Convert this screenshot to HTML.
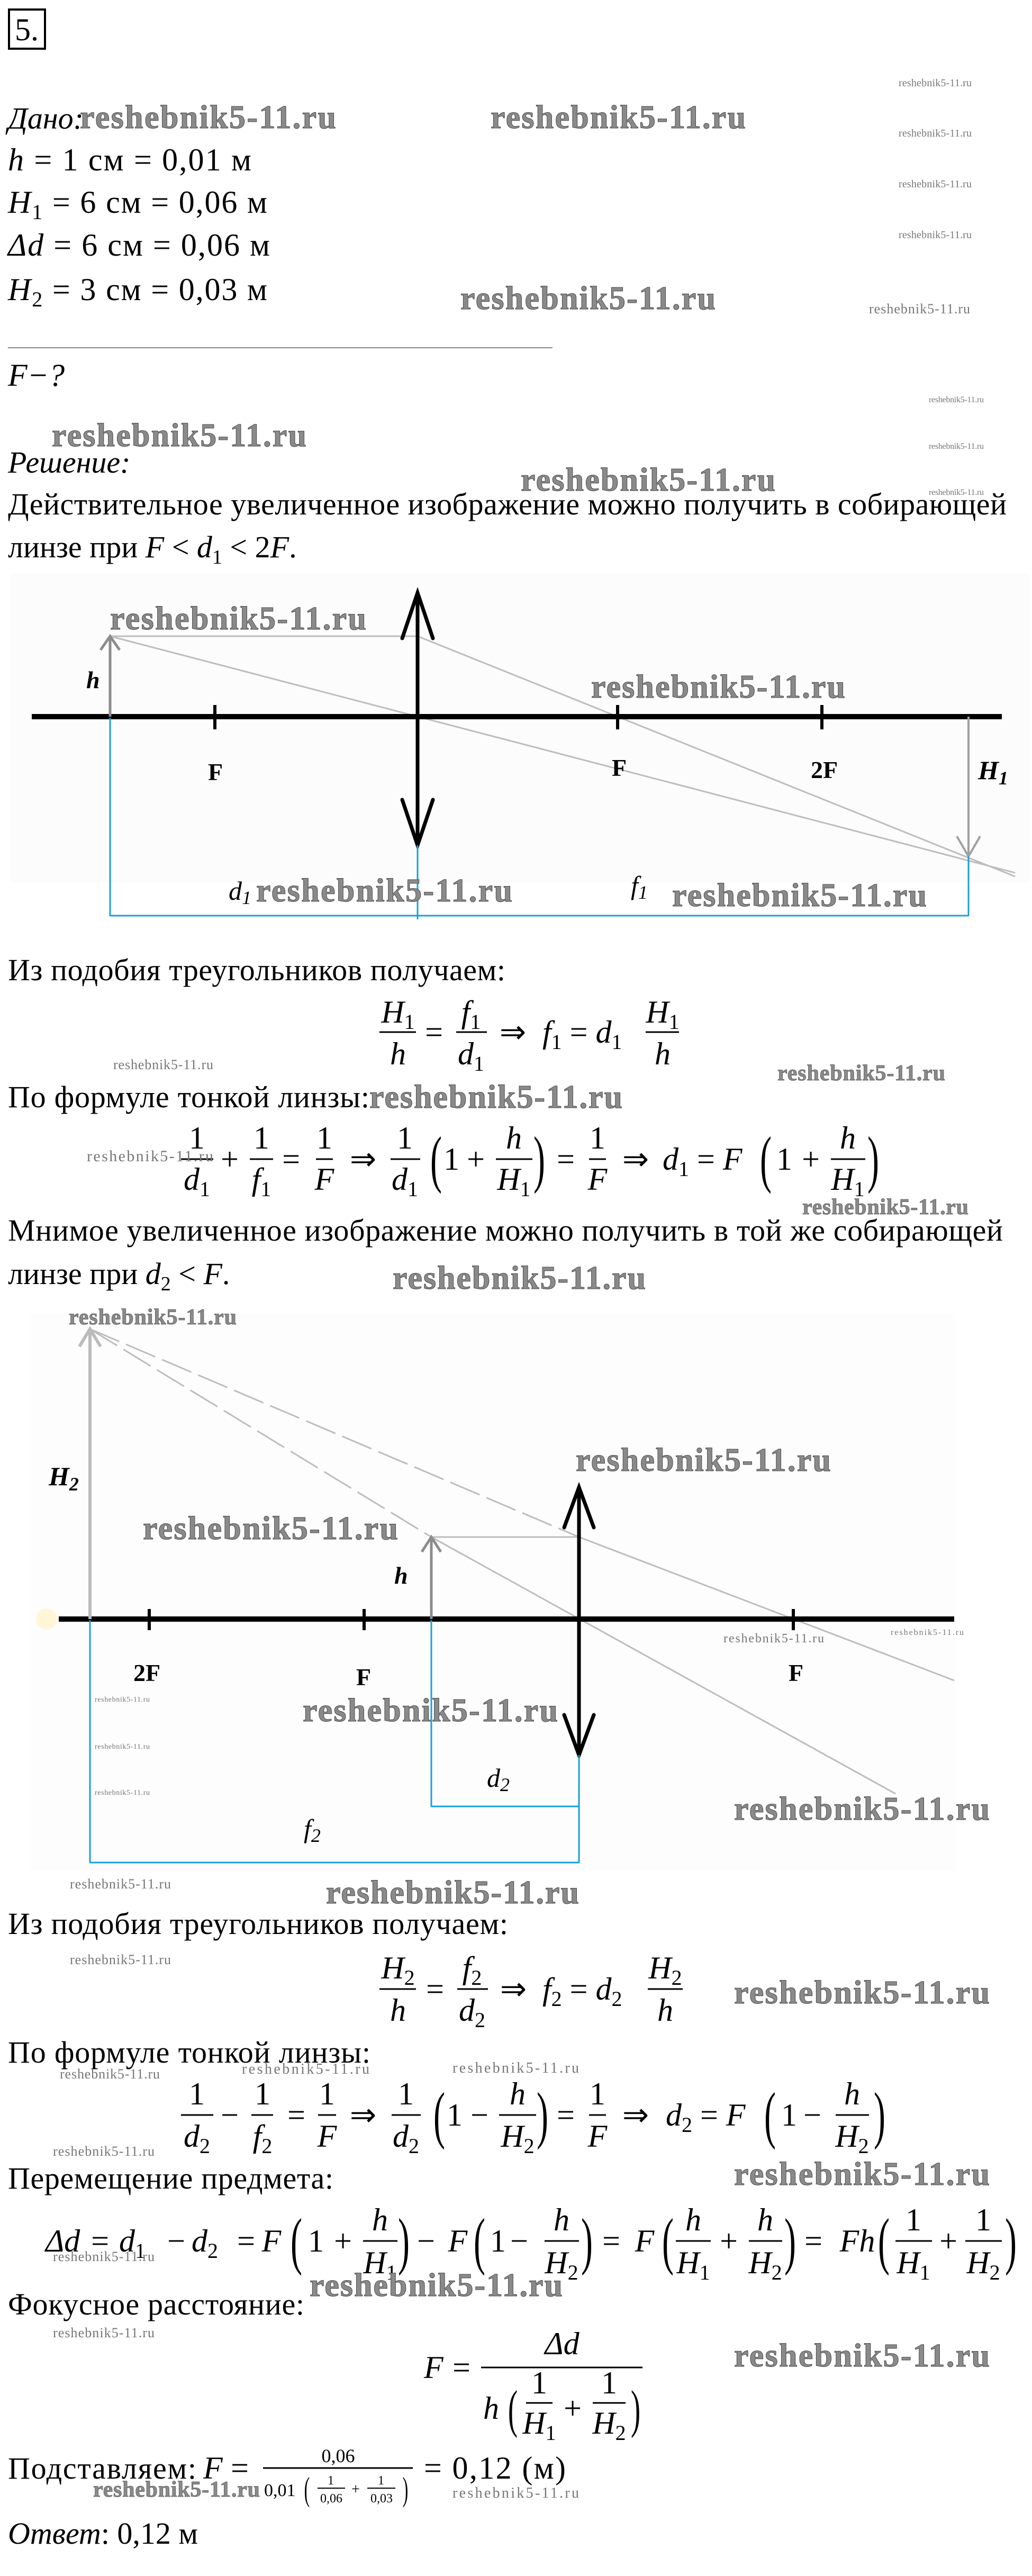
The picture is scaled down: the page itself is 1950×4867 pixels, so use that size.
<!DOCTYPE html>
<html><head><meta charset="utf-8"><style>
html,body{margin:0;padding:0;background:#fff}
svg{display:block;font-family:"Liberation Serif","DejaVu Serif",serif}
.t{font-family:"Liberation Serif",serif;font-size:58px;fill:#000}
.i{font-family:"Liberation Serif",serif;font-style:italic;font-size:58px;fill:#000}
.m{font-family:"Liberation Serif",serif;font-style:italic;font-size:60px;fill:#000}
.n{font-family:"Liberation Serif",serif;font-size:60px;fill:#000}
.p{font-family:"Liberation Serif",serif;font-size:120px;fill:#000}
.wb{font-family:"Liberation Serif",serif;font-weight:bold;font-size:62px;fill:#8a8a8a;stroke:#4a4a4a;stroke-width:1}
.wm{font-family:"Liberation Serif",serif;font-weight:bold;font-size:42px;fill:#8a8a8a;stroke:#555;stroke-width:.8}
.ws{font-family:"Liberation Serif",serif;font-size:26px;fill:#777}
.dl{font-family:"Liberation Serif",serif;font-weight:bold;font-size:46px;fill:#000}
</style></head><body>
<svg width="1950" height="4867" viewBox="0 0 1950 4867" xmlns="http://www.w3.org/2000/svg">
<rect width="1950" height="4867" fill="#fff"/>
<rect x="17" y="18" width="68" height="74" fill="none" stroke="#000" stroke-width="4"/>
<text x="28" y="76" class="t" style="font-size:60px">5.</text>
<text x="15" y="243" class="i">Дано:</text>
<text x="15" y="322" class="n" textLength="460"><tspan font-style="italic">h</tspan> = 1 см = 0,01 м</text>
<text x="15" y="402" class="n" textLength="490"><tspan font-style="italic">H</tspan><tspan font-size="40" dy="12">1</tspan><tspan dy="-12"> = 6 см = 0,06 м</tspan></text>
<text x="15" y="483" class="n" textLength="495"><tspan font-style="italic">Δd</tspan> = 6 см = 0,06 м</text>
<text x="15" y="567" class="n" textLength="490"><tspan font-style="italic">H</tspan><tspan font-size="40" dy="12">2</tspan><tspan dy="-12"> = 3 см = 0,03 м</tspan></text>
<line x1="15" y1="657" x2="1044" y2="657" stroke="#888" stroke-width="2"/>
<text x="15" y="729" class="m">F−?</text>
<text x="15" y="893" class="i">Решение:</text>
<text x="15" y="972" class="t" textLength="1887">Действительное увеличенное изображение можно получить в собирающей</text>
<text x="15" y="1053" class="t">линзе при  <tspan font-style="italic">F</tspan> &lt; <tspan font-style="italic">d</tspan><tspan font-size="38" dy="12">1</tspan><tspan dy="-12"> &lt; 2</tspan><tspan font-style="italic">F</tspan>.</text>
<text x="151" y="242" class="wb" textLength="484">reshebnik5-11.ru</text>
<text x="927" y="242" class="wb" textLength="482">reshebnik5-11.ru</text>
<text x="870" y="584" class="wb" textLength="482">reshebnik5-11.ru</text>
<text x="98" y="843" class="wb" textLength="481">reshebnik5-11.ru</text>
<text x="984" y="927" class="wb" textLength="481">reshebnik5-11.ru</text>
<text x="1698" y="163" class="ws" style="font-size:20px" textLength="138">reshebnik5-11.ru</text>
<text x="1698" y="258" class="ws" style="font-size:20px" textLength="138">reshebnik5-11.ru</text>
<text x="1698" y="354" class="ws" style="font-size:20px" textLength="138">reshebnik5-11.ru</text>
<text x="1698" y="450" class="ws" style="font-size:20px" textLength="138">reshebnik5-11.ru</text>
<text x="1642" y="592" class="ws" textLength="191">reshebnik5-11.ru</text>
<text x="1755" y="760" class="ws" style="font-size:16px" textLength="104">reshebnik5-11.ru</text>
<text x="1755" y="848" class="ws" style="font-size:16px" textLength="104">reshebnik5-11.ru</text>
<text x="1755" y="935" class="ws" style="font-size:16px" textLength="104">reshebnik5-11.ru</text>

<rect x="20" y="1083" width="1925" height="585" fill="#fcfcfc"/>
<g stroke="#bdbdbd" stroke-width="3" fill="none">
<polyline points="208,1202 789,1202 1918,1656"/>
<line x1="208" y1="1202" x2="1918" y2="1649"/>
</g>
<line x1="60" y1="1354" x2="1893" y2="1354" stroke="#000" stroke-width="10"/>
<g stroke="#000" stroke-width="6">
<line x1="406" y1="1332" x2="406" y2="1378"/>
<line x1="1167" y1="1332" x2="1167" y2="1378"/>
<line x1="1553" y1="1332" x2="1553" y2="1378"/>
</g>
<g stroke="#000" stroke-width="7" fill="none" stroke-linecap="round">
<line x1="789" y1="1120" x2="789" y2="1597"/>
<polyline points="760,1206 789,1120 818,1206"/>
<polyline points="760,1511 789,1597 818,1511"/>
</g>
<g stroke="#8c8c8c" stroke-width="5" fill="none">
<line x1="208" y1="1354" x2="208" y2="1204"/>
<polyline points="190,1228 208,1202 226,1228"/>
</g>
<g stroke="#a0a0a0" stroke-width="4" fill="none">
<line x1="1830" y1="1354" x2="1830" y2="1616"/>
<polyline points="1808,1580 1830,1618 1852,1580"/>
</g>
<g stroke="#1a9fd8" stroke-width="3">
<line x1="208" y1="1356" x2="208" y2="1731"/>
<line x1="789" y1="1597" x2="789" y2="1737"/>
<line x1="1830" y1="1618" x2="1830" y2="1731"/>
<line x1="208" y1="1730" x2="1830" y2="1730"/>
</g>
<text x="163" y="1300" class="dl" font-style="italic">h</text>
<text x="393" y="1474" class="dl">F</text>
<text x="1156" y="1466" class="dl">F</text>
<text x="1532" y="1470" class="dl">2F</text>
<text x="1848" y="1472" class="m" font-weight="bold" style="font-size:50px">H<tspan font-size="36" dy="10">1</tspan></text>
<text x="432" y="1700" class="m" style="font-size:50px">d<tspan font-size="36" dy="8">1</tspan></text>
<text x="1192" y="1690" class="m" style="font-size:50px">f<tspan font-size="36" dy="8">1</tspan></text>
<text x="208" y="1189" class="wb" textLength="484">reshebnik5-11.ru</text>
<text x="1117" y="1318" class="wb" textLength="480">reshebnik5-11.ru</text>
<text x="484" y="1703" class="wb" textLength="484">reshebnik5-11.ru</text>
<text x="1270" y="1712" class="wb" textLength="481">reshebnik5-11.ru</text>

<text x="15" y="1852" class="t" textLength="940">Из подобия треугольников получаем:</text>
<g>
<text x="752" y="1932" class="m" text-anchor="middle">H<tspan font-size="40" font-style="normal" dy="12">1</tspan></text>
<line x1="717" y1="1950" x2="786" y2="1950" stroke="#000" stroke-width="3"/>
<text x="752" y="2011" class="m" text-anchor="middle">h</text>
<text x="820" y="1970" class="n" text-anchor="middle">=</text>
<text x="890" y="1932" class="m" text-anchor="middle">f<tspan font-size="40" font-style="normal" dy="12">1</tspan></text>
<line x1="862" y1="1950" x2="920" y2="1950" stroke="#000" stroke-width="3"/>
<text x="890" y="2011" class="m" text-anchor="middle">d<tspan font-size="40" font-style="normal" dy="12">1</tspan></text>
<text x="969" y="1970" class="n" text-anchor="middle">⇒</text>
<text x="1025" y="1970" class="m">f<tspan font-size="40" font-style="normal" dy="12">1</tspan><tspan dy="-12" font-style="normal"> = </tspan>d<tspan font-size="40" font-style="normal" dy="12">1</tspan></text>
<text x="1252" y="1932" class="m" text-anchor="middle">H<tspan font-size="40" font-style="normal" dy="12">1</tspan></text>
<line x1="1220" y1="1950" x2="1283" y2="1950" stroke="#000" stroke-width="3"/>
<text x="1252" y="2011" class="m" text-anchor="middle">h</text>
</g>
<text x="214" y="2020" class="ws" textLength="189">reshebnik5-11.ru</text>
<text x="1469" y="2041" class="wm" textLength="317">reshebnik5-11.ru</text>
<text x="15" y="2092" class="t" textLength="683">По формуле тонкой линзы:</text>
<text x="698" y="2093" class="wb" textLength="478">reshebnik5-11.ru</text>

<g>
<text x="372" y="2170" class="n" text-anchor="middle">1</text><line x1="342" y1="2190" x2="403" y2="2190" stroke="#000" stroke-width="3"/><text x="372" y="2248" class="m" text-anchor="middle">d<tspan font-size="40" font-style="normal" dy="12">1</tspan></text>
<text x="434" y="2210" class="n" text-anchor="middle">+</text>
<text x="494" y="2170" class="n" text-anchor="middle">1</text><line x1="472" y1="2190" x2="516" y2="2190" stroke="#000" stroke-width="3"/><text x="494" y="2248" class="m" text-anchor="middle">f<tspan font-size="40" font-style="normal" dy="12">1</tspan></text>
<text x="550" y="2210" class="n" text-anchor="middle">=</text>
<text x="613" y="2170" class="n" text-anchor="middle">1</text><line x1="597" y1="2190" x2="629" y2="2190" stroke="#000" stroke-width="3"/><text x="613" y="2248" class="m" text-anchor="middle">F</text>
<text x="686" y="2210" class="n" text-anchor="middle">⇒</text>
<text x="765" y="2170" class="n" text-anchor="middle">1</text><line x1="738" y1="2190" x2="794" y2="2190" stroke="#000" stroke-width="3"/><text x="765" y="2248" class="m" text-anchor="middle">d<tspan font-size="40" font-style="normal" dy="12">1</tspan></text>
<text transform="translate(824,2230) scale(0.55,1)" class="p" text-anchor="middle">(</text>
<text x="853" y="2210" class="n" text-anchor="middle">1</text>
<text x="899" y="2210" class="n" text-anchor="middle">+</text>
<text x="971" y="2170" class="m" text-anchor="middle">h</text><line x1="937" y1="2190" x2="1006" y2="2190" stroke="#000" stroke-width="3"/><text x="971" y="2248" class="m" text-anchor="middle">H<tspan font-size="40" font-style="normal" dy="12">1</tspan></text>
<text transform="translate(1019,2230) scale(0.55,1)" class="p" text-anchor="middle">)</text>
<text x="1069" y="2210" class="n" text-anchor="middle">=</text>
<text x="1129" y="2170" class="n" text-anchor="middle">1</text><line x1="1113" y1="2190" x2="1145" y2="2190" stroke="#000" stroke-width="3"/><text x="1129" y="2248" class="m" text-anchor="middle">F</text>
<text x="1201" y="2210" class="n" text-anchor="middle">⇒</text>
<text x="1252" y="2210" class="m">d<tspan font-size="40" font-style="normal" dy="12">1</tspan><tspan dy="-12" font-style="normal"> = </tspan>F</text>
<text transform="translate(1447,2230) scale(0.55,1)" class="p" text-anchor="middle">(</text>
<text x="1482" y="2210" class="n" text-anchor="middle">1</text>
<text x="1532" y="2210" class="n" text-anchor="middle">+</text>
<text x="1602" y="2170" class="m" text-anchor="middle">h</text><line x1="1570" y1="2190" x2="1635" y2="2190" stroke="#000" stroke-width="3"/><text x="1602" y="2248" class="m" text-anchor="middle">H<tspan font-size="40" font-style="normal" dy="12">1</tspan></text>
<text transform="translate(1650,2230) scale(0.55,1)" class="p" text-anchor="middle">)</text>
</g>
<text x="164" y="2194" class="ws" style="font-size:30px" textLength="239">reshebnik5-11.ru</text>
<text x="1516" y="2294" class="wm" textLength="314">reshebnik5-11.ru</text>

<text x="15" y="2344" class="t" textLength="1880">Мнимое увеличенное изображение можно получить в той же собирающей</text>
<text x="15" y="2426" class="t">линзе при <tspan font-style="italic">d</tspan><tspan font-size="38" dy="12">2</tspan><tspan dy="-12"> &lt; </tspan><tspan font-style="italic">F</tspan>.</text>
<text x="742" y="2435" class="wb" textLength="478">reshebnik5-11.ru</text>

<rect x="57" y="2482" width="1748" height="1053" fill="#fdfdfd"/>
<circle cx="88" cy="3059" r="20" fill="#fff6d8"/>
<g stroke="#bdbdbd" stroke-width="3" fill="none">
<line x1="170" y1="2511" x2="1094" y2="2904" stroke-dasharray="60,14"/>
<line x1="170" y1="2511" x2="815" y2="2904" stroke-dasharray="60,14"/>
<polyline points="815,2904 1094,2904 1803,3175"/>
<line x1="815" y1="2904" x2="1692" y2="3389"/>
</g>
<line x1="111" y1="3059" x2="1803" y2="3059" stroke="#000" stroke-width="10"/>
<g stroke="#000" stroke-width="6">
<line x1="282" y1="3040" x2="282" y2="3080"/>
<line x1="688" y1="3040" x2="688" y2="3080"/>
<line x1="1499" y1="3040" x2="1499" y2="3080"/>
</g>
<g stroke="#000" stroke-width="7" fill="none" stroke-linecap="round">
<line x1="1094" y1="2810" x2="1094" y2="3316"/>
<polyline points="1066,2886 1094,2810 1122,2886"/>
<polyline points="1066,3240 1094,3316 1122,3240"/>
</g>
<g stroke="#bbbbbb" stroke-width="6" fill="none">
<line x1="170" y1="3059" x2="170" y2="2514"/>
<polyline points="150,2544 170,2511 190,2544"/>
</g>
<g stroke="#8c8c8c" stroke-width="5" fill="none">
<line x1="815" y1="3059" x2="815" y2="2906"/>
<polyline points="797,2932 815,2904 833,2932"/>
</g>
<g stroke="#1a9fd8" stroke-width="3">
<line x1="170" y1="3061" x2="170" y2="3520"/>
<line x1="815" y1="3061" x2="815" y2="3414"/>
<line x1="1094" y1="3316" x2="1094" y2="3520"/>
<line x1="815" y1="3413" x2="1094" y2="3413"/>
<line x1="170" y1="3519" x2="1094" y2="3519"/>
</g>
<text x="92" y="2806" class="m" font-weight="bold" style="font-size:50px">H<tspan font-size="36" dy="10">2</tspan></text>
<text x="745" y="2992" class="dl" font-style="italic">h</text>
<text x="252" y="3176" class="dl">2F</text>
<text x="673" y="3184" class="dl">F</text>
<text x="1490" y="3176" class="dl">F</text>
<text x="920" y="3376" class="m" style="font-size:50px">d<tspan font-size="36" dy="8">2</tspan></text>
<text x="574" y="3472" class="m" style="font-size:50px">f<tspan font-size="36" dy="8">2</tspan></text>
<text x="130" y="2502" class="wm" textLength="317">reshebnik5-11.ru</text>
<text x="1088" y="2779" class="wb" textLength="482">reshebnik5-11.ru</text>
<text x="270" y="2908" class="wb" textLength="482">reshebnik5-11.ru</text>
<text x="1367" y="3103" class="ws" style="font-size:24px" textLength="190">reshebnik5-11.ru</text>
<text x="1683" y="3089" class="ws" style="font-size:16px" textLength="138">reshebnik5-11.ru</text>
<text x="572" y="3252" class="wb" textLength="482">reshebnik5-11.ru</text>
<text x="179" y="3215" class="ws" style="font-size:14px" textLength="104">reshebnik5-11.ru</text>
<text x="179" y="3304" class="ws" style="font-size:14px" textLength="104">reshebnik5-11.ru</text>
<text x="179" y="3391" class="ws" style="font-size:14px" textLength="104">reshebnik5-11.ru</text>
<text x="1387" y="3438" class="wb" textLength="483">reshebnik5-11.ru</text>
<text x="132" y="3568" class="ws" textLength="191">reshebnik5-11.ru</text>
<text x="616" y="3596" class="wb" textLength="478">reshebnik5-11.ru</text>

<text x="15" y="3654" class="t" textLength="945">Из подобия треугольников получаем:</text>
<text x="132" y="3711" class="ws" textLength="191">reshebnik5-11.ru</text>
<g>
<text x="752" y="3738" class="m" text-anchor="middle">H<tspan font-size="40" font-style="normal" dy="12">2</tspan></text>
<line x1="717" y1="3758" x2="786" y2="3758" stroke="#000" stroke-width="3"/>
<text x="752" y="3818" class="m" text-anchor="middle">h</text>
<text x="822" y="3778" class="n" text-anchor="middle">=</text>
<text x="892" y="3738" class="m" text-anchor="middle">f<tspan font-size="40" font-style="normal" dy="12">2</tspan></text>
<line x1="864" y1="3758" x2="922" y2="3758" stroke="#000" stroke-width="3"/>
<text x="892" y="3818" class="m" text-anchor="middle">d<tspan font-size="40" font-style="normal" dy="12">2</tspan></text>
<text x="970" y="3778" class="n" text-anchor="middle">⇒</text>
<text x="1025" y="3778" class="m">f<tspan font-size="40" font-style="normal" dy="12">2</tspan><tspan dy="-12" font-style="normal"> = </tspan>d<tspan font-size="40" font-style="normal" dy="12">2</tspan></text>
<text x="1257" y="3738" class="m" text-anchor="middle">H<tspan font-size="40" font-style="normal" dy="12">2</tspan></text>
<line x1="1224" y1="3758" x2="1290" y2="3758" stroke="#000" stroke-width="3"/>
<text x="1257" y="3818" class="m" text-anchor="middle">h</text>
</g>
<text x="1387" y="3785" class="wb" textLength="483">reshebnik5-11.ru</text>
<text x="15" y="3897" class="t" textLength="685">По формуле тонкой линзы:</text>
<text x="113" y="3927" class="ws" textLength="189">reshebnik5-11.ru</text>
<text x="457" y="3918" class="ws" style="font-size:28px" textLength="241">reshebnik5-11.ru</text>
<text x="855" y="3916" class="ws" style="font-size:28px" textLength="239">reshebnik5-11.ru</text>
<text x="100" y="4073" class="ws" textLength="192">reshebnik5-11.ru</text>

<g>
<text x="372" y="3976" class="n" text-anchor="middle">1</text><line x1="342" y1="3996" x2="403" y2="3996" stroke="#000" stroke-width="3"/><text x="372" y="4056" class="m" text-anchor="middle">d<tspan font-size="40" font-style="normal" dy="12">2</tspan></text>
<text x="434" y="4016" class="n" text-anchor="middle">−</text>
<text x="496" y="3976" class="n" text-anchor="middle">1</text><line x1="475" y1="3996" x2="516" y2="3996" stroke="#000" stroke-width="3"/><text x="496" y="4056" class="m" text-anchor="middle">f<tspan font-size="40" font-style="normal" dy="12">2</tspan></text>
<text x="560" y="4016" class="n" text-anchor="middle">=</text>
<text x="618" y="3976" class="n" text-anchor="middle">1</text><line x1="601" y1="3996" x2="635" y2="3996" stroke="#000" stroke-width="3"/><text x="618" y="4056" class="m" text-anchor="middle">F</text>
<text x="686" y="4016" class="n" text-anchor="middle">⇒</text>
<text x="767" y="3976" class="n" text-anchor="middle">1</text><line x1="740" y1="3996" x2="795" y2="3996" stroke="#000" stroke-width="3"/><text x="767" y="4056" class="m" text-anchor="middle">d<tspan font-size="40" font-style="normal" dy="12">2</tspan></text>
<text transform="translate(830,4036) scale(0.55,1)" class="p" text-anchor="middle">(</text>
<text x="859" y="4016" class="n" text-anchor="middle">1</text>
<text x="906" y="4016" class="n" text-anchor="middle">−</text>
<text x="978" y="3976" class="m" text-anchor="middle">h</text><line x1="943" y1="3996" x2="1013" y2="3996" stroke="#000" stroke-width="3"/><text x="978" y="4056" class="m" text-anchor="middle">H<tspan font-size="40" font-style="normal" dy="12">2</tspan></text>
<text transform="translate(1025,4036) scale(0.55,1)" class="p" text-anchor="middle">)</text>
<text x="1069" y="4016" class="n" text-anchor="middle">=</text>
<text x="1129" y="3976" class="n" text-anchor="middle">1</text><line x1="1113" y1="3996" x2="1145" y2="3996" stroke="#000" stroke-width="3"/><text x="1129" y="4056" class="m" text-anchor="middle">F</text>
<text x="1201" y="4016" class="n" text-anchor="middle">⇒</text>
<text x="1258" y="4016" class="m">d<tspan font-size="40" font-style="normal" dy="12">2</tspan><tspan dy="-12" font-style="normal"> = </tspan>F</text>
<text transform="translate(1455,4036) scale(0.55,1)" class="p" text-anchor="middle">(</text>
<text x="1491" y="4016" class="n" text-anchor="middle">1</text>
<text x="1535" y="4016" class="n" text-anchor="middle">−</text>
<text x="1610" y="3976" class="m" text-anchor="middle">h</text><line x1="1579" y1="3996" x2="1642" y2="3996" stroke="#000" stroke-width="3"/><text x="1610" y="4056" class="m" text-anchor="middle">H<tspan font-size="40" font-style="normal" dy="12">2</tspan></text>
<text transform="translate(1662,4036) scale(0.55,1)" class="p" text-anchor="middle">)</text>
</g>
<text x="15" y="4135" class="t" textLength="615">Перемещение предмета:</text>
<text x="1387" y="4128" class="wb" textLength="483">reshebnik5-11.ru</text>

<g>
<text x="86" y="4254" class="m">Δd</text>
<text x="189" y="4254" class="n" text-anchor="middle">=</text>
<text x="225" y="4254" class="m">d<tspan font-size="40" font-style="normal" dy="12">1</tspan></text>
<text x="333" y="4254" class="n" text-anchor="middle">−</text>
<text x="362" y="4254" class="m">d<tspan font-size="40" font-style="normal" dy="12">2</tspan></text>
<text x="465" y="4254" class="n" text-anchor="middle">=</text>
<text x="513" y="4254" class="m" text-anchor="middle">F</text>
<text transform="translate(560,4274) scale(0.55,1)" class="p" text-anchor="middle">(</text>
<text x="597" y="4254" class="n" text-anchor="middle">1</text>
<text x="648" y="4254" class="n" text-anchor="middle">+</text>
<text x="718" y="4214" class="m" text-anchor="middle">h</text><line x1="686" y1="4234" x2="751" y2="4234" stroke="#000" stroke-width="3"/><text x="718" y="4295" class="m" text-anchor="middle">H<tspan font-size="40" font-style="normal" dy="12">1</tspan></text>
<text transform="translate(763,4274) scale(0.55,1)" class="p" text-anchor="middle">)</text>
<text x="805" y="4254" class="n" text-anchor="middle">−</text>
<text x="865" y="4254" class="m" text-anchor="middle">F</text>
<text transform="translate(906,4274) scale(0.55,1)" class="p" text-anchor="middle">(</text>
<text x="941" y="4254" class="n" text-anchor="middle">1</text>
<text x="981" y="4254" class="n" text-anchor="middle">−</text>
<text x="1061" y="4214" class="m" text-anchor="middle">h</text><line x1="1029" y1="4234" x2="1094" y2="4234" stroke="#000" stroke-width="3"/><text x="1061" y="4295" class="m" text-anchor="middle">H<tspan font-size="40" font-style="normal" dy="12">2</tspan></text>
<text transform="translate(1109,4274) scale(0.55,1)" class="p" text-anchor="middle">)</text>
<text x="1155" y="4254" class="n" text-anchor="middle">=</text>
<text x="1218" y="4254" class="m" text-anchor="middle">F</text>
<text transform="translate(1262,4274) scale(0.55,1)" class="p" text-anchor="middle">(</text>
<text x="1310" y="4214" class="m" text-anchor="middle">h</text><line x1="1277" y1="4234" x2="1343" y2="4234" stroke="#000" stroke-width="3"/><text x="1310" y="4295" class="m" text-anchor="middle">H<tspan font-size="40" font-style="normal" dy="12">1</tspan></text>
<text x="1377" y="4254" class="n" text-anchor="middle">+</text>
<text x="1446" y="4214" class="m" text-anchor="middle">h</text><line x1="1415" y1="4234" x2="1478" y2="4234" stroke="#000" stroke-width="3"/><text x="1446" y="4295" class="m" text-anchor="middle">H<tspan font-size="40" font-style="normal" dy="12">2</tspan></text>
<text transform="translate(1493,4274) scale(0.55,1)" class="p" text-anchor="middle">)</text>
<text x="1537" y="4254" class="n" text-anchor="middle">=</text>
<text x="1620" y="4254" class="m" text-anchor="middle">Fh</text>
<text transform="translate(1670,4274) scale(0.55,1)" class="p" text-anchor="middle">(</text>
<text x="1726" y="4214" class="n" text-anchor="middle">1</text><line x1="1692" y1="4234" x2="1761" y2="4234" stroke="#000" stroke-width="3"/><text x="1726" y="4295" class="m" text-anchor="middle">H<tspan font-size="40" font-style="normal" dy="12">1</tspan></text>
<text x="1792" y="4254" class="n" text-anchor="middle">+</text>
<text x="1858" y="4214" class="n" text-anchor="middle">1</text><line x1="1824" y1="4234" x2="1893" y2="4234" stroke="#000" stroke-width="3"/><text x="1858" y="4295" class="m" text-anchor="middle">H<tspan font-size="40" font-style="normal" dy="12">2</tspan></text>
<text transform="translate(1910,4274) scale(0.55,1)" class="p" text-anchor="middle">)</text>
</g>
<text x="100" y="4272" class="ws" textLength="192">reshebnik5-11.ru</text>
<text x="585" y="4338" class="wb" textLength="478">reshebnik5-11.ru</text>
<text x="15" y="4373" class="t" textLength="560">Фокусное расстояние:</text>
<text x="100" y="4416" class="ws" textLength="192">reshebnik5-11.ru</text>

<g>
<text x="801" y="4493" class="m">F</text>
<text x="872" y="4493" class="n" text-anchor="middle">=</text>
<text x="1062" y="4448" class="m" text-anchor="middle">Δd</text>
<line x1="909" y1="4473" x2="1214" y2="4473" stroke="#000" stroke-width="3"/>
<text x="928" y="4570" class="m" text-anchor="middle">h</text>
<text transform="translate(969,4585) scale(0.55,1)" class="p" style="font-size:100px" text-anchor="middle">(</text>
<text x="1019" y="4522" class="n" text-anchor="middle">1</text><line x1="994" y1="4540" x2="1044" y2="4540" stroke="#000" stroke-width="3"/><text x="1019" y="4598" class="m" text-anchor="middle">H<tspan font-size="40" font-style="normal" dy="12">1</tspan></text>
<text x="1082" y="4570" class="n" text-anchor="middle">+</text>
<text x="1151" y="4522" class="n" text-anchor="middle">1</text><line x1="1120" y1="4540" x2="1182" y2="4540" stroke="#000" stroke-width="3"/><text x="1151" y="4598" class="m" text-anchor="middle">H<tspan font-size="40" font-style="normal" dy="12">2</tspan></text>
<text transform="translate(1201,4585) scale(0.55,1)" class="p" style="font-size:100px" text-anchor="middle">)</text>
</g>
<text x="1387" y="4471" class="wb" textLength="483">reshebnik5-11.ru</text>

<text x="15" y="4683" class="t" textLength="356">Подставляем:</text>
<text x="384" y="4683" class="m">F</text>
<text x="453" y="4683" class="n" text-anchor="middle">=</text>
<text x="639" y="4652" class="n" style="font-size:36px" text-anchor="middle">0,06</text>
<line x1="497" y1="4663" x2="780" y2="4663" stroke="#000" stroke-width="3"/>
<text x="499" y="4716" class="n" style="font-size:34px">0,01</text>
<text transform="translate(580,4724) scale(0.5,1)" class="p" style="font-size:64px" text-anchor="middle">(</text>
<text x="625" y="4694" class="n" style="font-size:24px" text-anchor="middle">1</text><line x1="600" y1="4701" x2="652" y2="4701" stroke="#000" stroke-width="2"/><text x="626" y="4728" class="n" style="font-size:24px" text-anchor="middle">0,06</text>
<text x="672" y="4712" class="n" style="font-size:28px" text-anchor="middle">+</text>
<text x="720" y="4694" class="n" style="font-size:24px" text-anchor="middle">1</text><line x1="694" y1="4701" x2="747" y2="4701" stroke="#000" stroke-width="2"/><text x="721" y="4728" class="n" style="font-size:24px" text-anchor="middle">0,03</text>
<text transform="translate(766,4724) scale(0.5,1)" class="p" style="font-size:64px" text-anchor="middle">)</text>
<text x="801" y="4683" class="n" textLength="268">= 0,12 (м)</text>
<text x="176" y="4717" class="wm" textLength="315">reshebnik5-11.ru</text>
<text x="855" y="4719" class="ws" style="font-size:28px" textLength="239">reshebnik5-11.ru</text>
<text x="15" y="4806" class="i">Ответ<tspan font-style="normal">: 0,12 м</tspan></text>
</svg>
</body></html>
